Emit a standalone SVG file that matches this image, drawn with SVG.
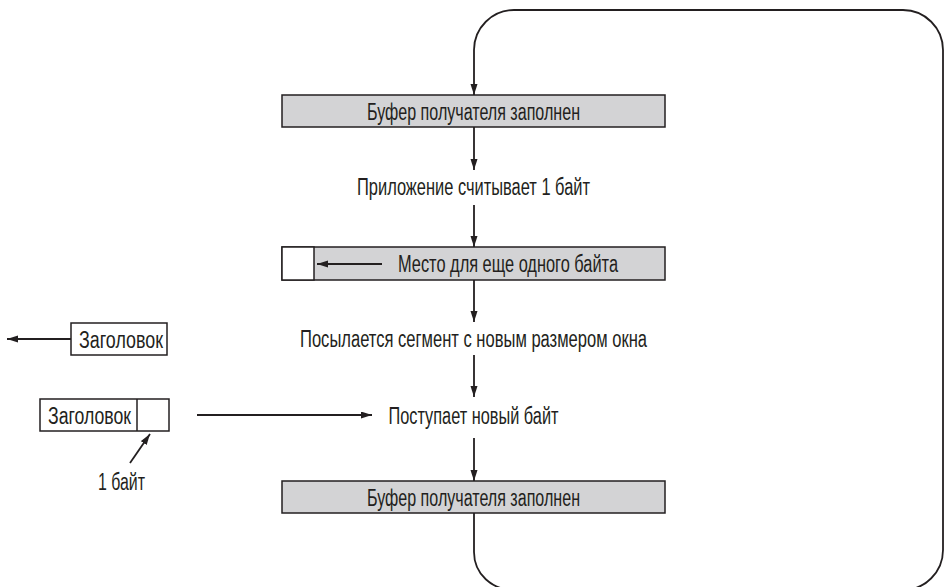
<svg xmlns="http://www.w3.org/2000/svg" width="946" height="587" viewBox="0 0 946 587">
<style>
.box{fill:#d3d3d5;stroke:#231f20;stroke-width:1.5}
.wbox{fill:#ffffff;stroke:#231f20;stroke-width:1.5}
.ln{fill:none;stroke:#231f20;stroke-width:1.8}
text{font-family:"Liberation Sans",Arial,sans-serif;font-size:23px;fill:#231f20}
.c{text-anchor:middle}
</style>
<defs>
<marker id="ah" markerUnits="userSpaceOnUse" markerWidth="12" markerHeight="8" refX="11" refY="3.5" orient="auto">
<path d="M0,0 L11,3.5 L0,7 z" fill="#231f20"/>
</marker>
</defs>
<rect width="946" height="587" fill="#ffffff"/>
<g id="buf1">
<rect class="box" x="282" y="95" width="383" height="32"/>
<text class="c" x="473.5" y="119.5" textLength="213" lengthAdjust="spacingAndGlyphs">Буфер получателя заполнен</text>
</g>
<g id="read">
<text class="c" x="473.5" y="195" textLength="233" lengthAdjust="spacingAndGlyphs">Приложение считывает 1 байт</text>
</g>
<g id="space">
<rect class="box" x="282" y="247" width="383" height="33"/>
<rect class="wbox" x="282" y="247" width="32" height="33"/>
<text x="398" y="272" textLength="220" lengthAdjust="spacingAndGlyphs">Место для еще одного байта</text>
</g>
<g id="send">
<text class="c" x="473.5" y="347" textLength="347" lengthAdjust="spacingAndGlyphs">Посылается сегмент с новым размером окна</text>
</g>
<g id="arrive">
<text class="c" x="473.5" y="424" textLength="170" lengthAdjust="spacingAndGlyphs">Поступает новый байт</text>
</g>
<g id="buf2">
<rect class="box" x="282" y="481" width="383" height="32"/>
<text class="c" x="473.5" y="505.5" textLength="213" lengthAdjust="spacingAndGlyphs">Буфер получателя заполнен</text>
</g>
<g id="hdr1">
<rect class="wbox" x="71" y="323" width="96" height="32"/>
<text x="79" y="347.5" textLength="84" lengthAdjust="spacingAndGlyphs">Заголовок</text>
</g>
<g id="hdr2">
<rect class="wbox" x="40" y="399" width="129" height="32"/>
<line x1="137" y1="399" x2="137" y2="431" stroke="#231f20" stroke-width="1.5"/>
<text x="48" y="423.5" textLength="83" lengthAdjust="spacingAndGlyphs">Заголовок</text>
</g>
<g id="byte">
<text class="c" x="121.5" y="490" textLength="47" lengthAdjust="spacingAndGlyphs">1 байт</text>
</g>
<g id="connectors">
<path class="ln" d="M474,513 L474,552 C474,574 492,590 514,590 L903,590 C925,590 943,572 943,550 L943,50 C943,28 925,10 903,10 L514,10 C492,10 474,28 474,50 L474,95" marker-end="url(#ah)"/>
<line class="ln" x1="474" y1="127" x2="474" y2="170" marker-end="url(#ah)"/>
<line class="ln" x1="474" y1="205" x2="474" y2="247" marker-end="url(#ah)"/>
<line class="ln" x1="474" y1="280" x2="474" y2="322" marker-end="url(#ah)"/>
<line class="ln" x1="474" y1="355" x2="474" y2="397" marker-end="url(#ah)"/>
<line class="ln" x1="474" y1="438" x2="474" y2="481" marker-end="url(#ah)"/>
<line class="ln" x1="197" y1="415" x2="372" y2="415" marker-end="url(#ah)"/>
<line class="ln" x1="71" y1="339" x2="7" y2="339" marker-end="url(#ah)"/>
<line class="ln" x1="130" y1="463" x2="150" y2="434" marker-end="url(#ah)"/>
<line class="ln" x1="382" y1="264" x2="317" y2="264" marker-end="url(#ah)"/>
</g>
</svg>
